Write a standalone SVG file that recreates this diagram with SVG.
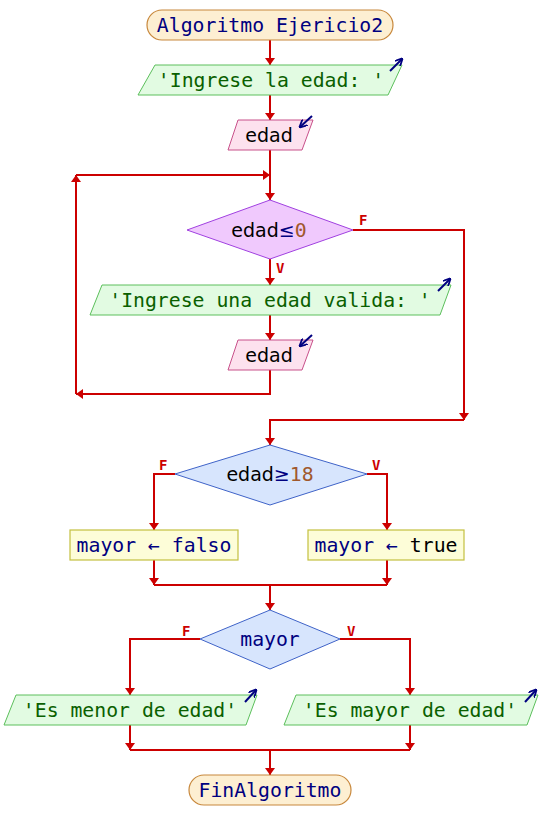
<svg xmlns="http://www.w3.org/2000/svg" width="540" height="840" viewBox="0 0 540 840">
<style>
.c{fill:none;stroke:#cc0000;stroke-width:2}
.term{fill:#fdefd2;stroke:#c8883c;stroke-width:1.2}
.out{fill:#e2fbe2;stroke:#5cbf5c;stroke-width:1}
.inp{fill:#fde1ee;stroke:#c8508a;stroke-width:1}
.d1{fill:#f0c9fd;stroke:#a040e0;stroke-width:1}
.d2{fill:#d7e5fd;stroke:#3f63c8;stroke-width:1}
.box{fill:#fdfdd8;stroke:#c4c040;stroke-width:1.2}
.mono{font-family:"DejaVu Sans Mono","Liberation Mono",monospace;font-size:19.8px}
.sans{font-family:"DejaVu Sans","Liberation Sans",sans-serif;font-size:19px}
.navy{fill:#000080}
.green{fill:#0a6000}
.blk{fill:#000}
.num{fill:#a0582c}
.lbl{font-family:"DejaVu Sans Mono","Liberation Mono",monospace;font-size:14px;font-weight:bold;fill:#cc0000}
.ico{fill:none;stroke:#000080;stroke-width:2}
</style>
<defs>
<marker id="ah" viewBox="0 0 7 10" refX="7" refY="5" markerWidth="7" markerHeight="10" markerUnits="userSpaceOnUse" orient="auto"><path d="M0,0 L7,5 L0,10 z" fill="#cc0000"/></marker>
<marker id="ih" viewBox="0 0 8 8" refX="7" refY="4" markerWidth="8" markerHeight="8" markerUnits="userSpaceOnUse" orient="auto"><path d="M0,0 L8,4 L0,8" fill="none" stroke="#000080" stroke-width="1.8"/></marker>
</defs>
<g id="connectors">
<path class="c" d="M270,40 V65" marker-end="url(#ah)"/>
<path class="c" d="M270,95 V120" marker-end="url(#ah)"/>
<path class="c" d="M270,150 V200" marker-end="url(#ah)"/>
<path class="c" d="M270,259 V285" marker-end="url(#ah)"/>
<path class="c" d="M270,315 V340" marker-end="url(#ah)"/>
<path class="c" d="M270,370 V394 H76" marker-end="url(#ah)"/>
<path class="c" d="M76,394 V175" marker-end="url(#ah)"/>
<path class="c" d="M76,175 H270" marker-end="url(#ah)"/>
<path class="c" d="M353,230 H464 V420" marker-end="url(#ah)"/>
<path class="c" d="M464,420 H270 V445" marker-end="url(#ah)"/>
<path class="c" d="M175,474 H154 V530" marker-end="url(#ah)"/>
<path class="c" d="M367,474 H387 V530" marker-end="url(#ah)"/>
<path class="c" d="M154,560 V585" marker-end="url(#ah)"/>
<path class="c" d="M387,560 V585" marker-end="url(#ah)"/>
<path class="c" d="M154,585 H387"/>
<path class="c" d="M270,585 V610" marker-end="url(#ah)"/>
<path class="c" d="M200,639 H130 V695" marker-end="url(#ah)"/>
<path class="c" d="M340,639 H410 V695" marker-end="url(#ah)"/>
<path class="c" d="M130,725 V750" marker-end="url(#ah)"/>
<path class="c" d="M410,725 V750" marker-end="url(#ah)"/>
<path class="c" d="M130,750 H410"/>
<path class="c" d="M270,750 V775" marker-end="url(#ah)"/>
<text class="lbl" x="359" y="225">F</text>
<text class="lbl" x="276" y="273">V</text>
<text class="lbl" x="159" y="470">F</text>
<text class="lbl" x="372" y="470">V</text>
<text class="lbl" x="182" y="636">F</text>
<text class="lbl" x="347" y="636">V</text>
</g>
<g id="start">
<rect class="term" x="147" y="10" width="246" height="30" rx="15"/>
<text class="mono navy" x="270" y="32" text-anchor="middle">Algoritmo Ejericio2</text>
</g>
<g id="out1">
<polygon class="out" points="155,65 402,65 388,95 138,95"/>
<text class="mono green" x="271" y="87" text-anchor="middle">'Ingrese la edad: '</text>
<path class="ico" d="M390,71 L402,59" marker-end="url(#ih)"/>
</g>
<g id="in1">
<polygon class="inp" points="238,120 313,120 302,150 228,150"/>
<text class="sans blk" x="269" y="142" text-anchor="middle">edad</text>
<path class="ico" d="M312,116 L300,127" marker-end="url(#ih)"/>
</g>
<g id="cond1">
<polygon class="d1" points="270,200 353,230 270,259 187,230"/>
<text x="269" y="237" text-anchor="middle"><tspan class="sans blk">edad</tspan><tspan class="sans navy">≤</tspan><tspan class="mono num">0</tspan></text>
</g>
<g id="out2">
<polygon class="out" points="102,285 451,285 440,315 90,315"/>
<text class="mono green" x="270" y="307" text-anchor="middle">'Ingrese una edad valida: '</text>
<path class="ico" d="M438,291 L450,279" marker-end="url(#ih)"/>
</g>
<g id="in2">
<polygon class="inp" points="238,340 313,340 302,370 228,370"/>
<text class="sans blk" x="269" y="362" text-anchor="middle">edad</text>
<path class="ico" d="M312,335 L300,346" marker-end="url(#ih)"/>
</g>
<g id="cond2">
<polygon class="d2" points="270,445 367,474 270,505 175,474"/>
<text x="270" y="481" text-anchor="middle"><tspan class="sans blk">edad</tspan><tspan class="sans navy">≥</tspan><tspan class="mono num">18</tspan></text>
</g>
<g id="assignF">
<rect class="box" x="70" y="530" width="168" height="30"/>
<text class="mono navy" x="154" y="552" text-anchor="middle">mayor ← falso</text>
</g>
<g id="assignT">
<rect class="box" x="308" y="530" width="156" height="30"/>
<text class="mono" x="386" y="552" text-anchor="middle"><tspan class="navy">mayor ← </tspan><tspan class="blk">true</tspan></text>
</g>
<g id="cond3">
<polygon class="d2" points="270,610 340,639 270,669 200,639"/>
<text class="mono navy" x="270" y="646" text-anchor="middle">mayor</text>
</g>
<g id="out3">
<polygon class="out" points="16,695 257,695 246,725 4,725"/>
<text class="mono green" x="130" y="717" text-anchor="middle">'Es menor de edad'</text>
<path class="ico" d="M245,702 L256,690" marker-end="url(#ih)"/>
</g>
<g id="out4">
<polygon class="out" points="296,695 538,695 527,725 284,725"/>
<text class="mono green" x="410" y="717" text-anchor="middle">'Es mayor de edad'</text>
<path class="ico" d="M525,702 L536,690" marker-end="url(#ih)"/>
</g>
<g id="end">
<rect class="term" x="189" y="775" width="162" height="30" rx="15"/>
<text class="mono navy" x="270" y="797" text-anchor="middle">FinAlgoritmo</text>
</g>
</svg>
